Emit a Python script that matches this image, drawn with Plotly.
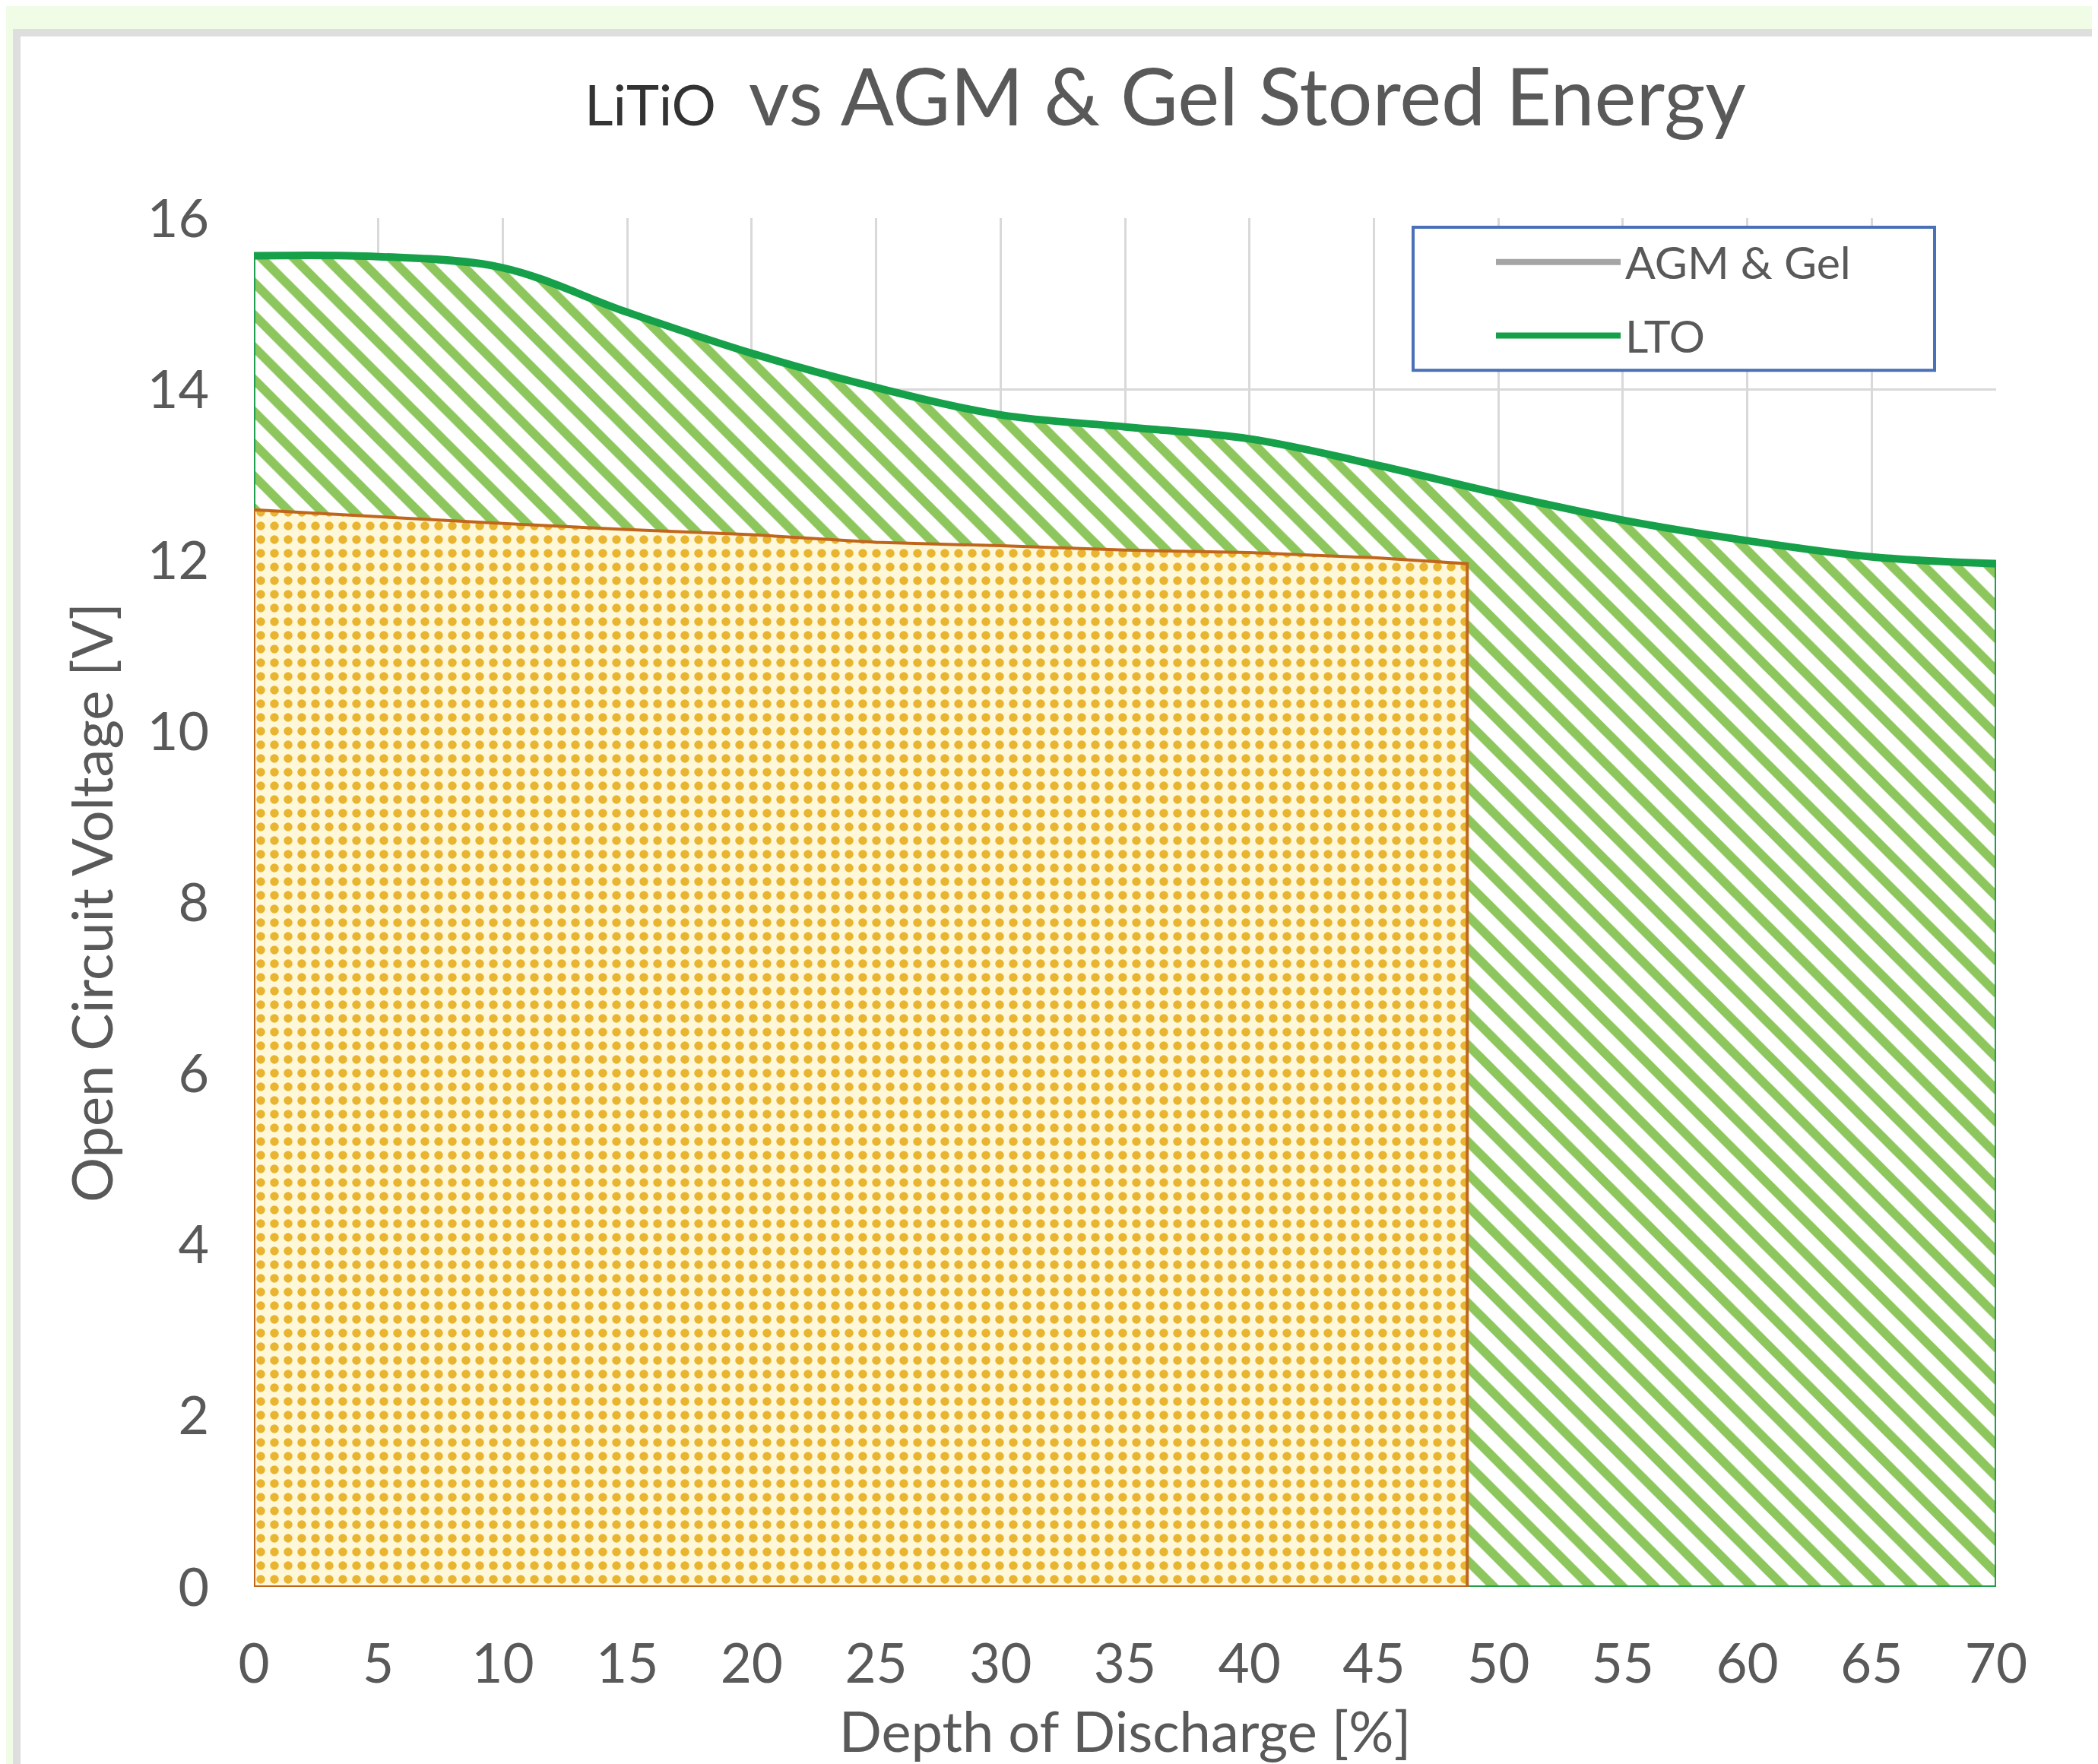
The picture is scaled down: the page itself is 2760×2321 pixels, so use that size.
import plotly.graph_objects as go

# ---- data ----
dod_lto = [0, 5, 10, 15, 20, 25, 30, 35, 40, 45, 50, 55, 60, 65, 70]
ocv_lto = [15.56, 15.55, 15.42, 14.90, 14.42, 14.02, 13.70, 13.56, 13.42, 13.12, 12.78, 12.47, 12.23, 12.04, 11.96]

dod_agm = [0, 5, 10, 15, 20, 25, 30, 35, 40, 45, 48.75]
ocv_agm = [12.59, 12.51, 12.43, 12.36, 12.30, 12.21, 12.17, 12.12, 12.09, 12.03, 11.96]

x_ticks = list(range(0, 71, 5))
y_ticks = list(range(0, 17, 2))

series_names = ["AGM & Gel", "LTO"]
legend_colors = ["#a5a5a5", "#16a049"]

FONT = "Lato"
GREY_TXT = "#595959"

fig = go.Figure()

# LTO area (closed outline down to zero)
fig.add_trace(go.Scatter(
    x=dod_lto + [dod_lto[-1], dod_lto[0], dod_lto[0]],
    y=ocv_lto + [0, 0, ocv_lto[0]],
    mode="lines", fill="toself",
    fillcolor="rgba(0,0,0,0)",
    fillpattern=dict(shape="\\", fgcolor="#8cc65c", bgcolor="#ffffff",
                     size=30, solidity=0.4, fillmode="replace"),
    line=dict(color="#1f9e4b", width=4),
    showlegend=False, hoverinfo="skip", name="LTO area"))

# LTO smoothed top line
fig.add_trace(go.Scatter(
    x=dod_lto, y=ocv_lto, mode="lines", name="LTO",
    line=dict(color="#16a049", width=10, shape="spline", smoothing=1.0),
    showlegend=False))

# AGM & Gel area
fig.add_trace(go.Scatter(
    x=dod_agm + [dod_agm[-1], dod_agm[0], dod_agm[0]],
    y=ocv_agm + [0, 0, ocv_agm[0]],
    mode="lines", fill="toself",
    fillcolor="rgba(0,0,0,0)",
    fillpattern=dict(shape=".", fgcolor="#e9b530", bgcolor="#fff8d8",
                     size=18, solidity=0.32, fillmode="replace"),
    line=dict(color="#c0661c", width=4),
    showlegend=False, name="AGM & Gel"))

# ---- layout geometry (screen pixels of the reference) ----
W, H = 2760, 2321
OFF = 8                       # page body margin shifts the figure
L, R, T, B = 334, 2626, 287, 2095
pw, ph = R - L, B - T
FW, FH = W - OFF, H - OFF     # figure size

def px(xf):
    return (xf - L) / pw

def py(yf):
    return (B - yf) / ph

shapes = []
# chart area (white card with grey border) on light green page
shapes.append(dict(type="rect", xref="paper", yref="paper", layer="below",
                   x0=px(22), x1=px(W + 40), y0=py(H + 40), y1=py(42),
                   fillcolor="#ffffff", line=dict(color="#dedede", width=10)))

# manual legend box
lx0, lx1, ly0, ly1 = 1859, 2545, 299, 488
shapes.append(dict(type="rect", xref="paper", yref="paper", layer="above",
                   x0=px(lx0), x1=px(lx1), y0=py(ly1), y1=py(ly0),
                   fillcolor="#ffffff", line=dict(color="#4a70b8", width=4)))
annotations = []
for i, (nm, col) in enumerate(zip(series_names, legend_colors)):
    yy = 345 + i * 97
    shapes.append(dict(type="line", xref="paper", yref="paper", layer="above",
                       x0=px(1968), x1=px(2132), y0=py(yy), y1=py(yy),
                       line=dict(color=col, width=8)))
    annotations.append(dict(x=px(2136), y=py(yy), xref="paper", yref="paper",
                            text=nm, showarrow=False, xanchor="left", yanchor="middle",
                            font=dict(family=FONT, size=59, color=GREY_TXT)))

fig.update_layout(
    width=FW, height=FH,
    margin=dict(l=L - OFF, r=W - R, t=T - OFF, b=H - B),
    paper_bgcolor="#f1fce6",
    plot_bgcolor="#ffffff",
    font=dict(family=FONT, color=GREY_TXT),
    title=dict(
        text='<span style="font-size:73px;color:#333333">LiTiO </span> vs AGM &amp; Gel Stored Energy',
        x=(1533 - OFF) / FW, xref="container", xanchor="center",
        y=1 - (129 - OFF) / FH, yref="container", yanchor="middle",
        font=dict(family=FONT, size=104, color=GREY_TXT)),
    xaxis=dict(range=[0, 70], tickvals=x_ticks, ticktext=[str(v) for v in x_ticks],
               showgrid=True, gridcolor="#d9d9d9", gridwidth=3,
               zeroline=False, showline=False, ticks="",
               ticklabelstandoff=54,
               tickfont=dict(family=FONT, size=71, color=GREY_TXT),
               title=dict(text="Depth of Discharge [%]", standoff=28,
                          font=dict(family=FONT, size=74, color=GREY_TXT))),
    yaxis=dict(range=[0, 16], tickvals=y_ticks, ticktext=[str(v) for v in y_ticks],
               showgrid=True, gridcolor="#d9d9d9", gridwidth=3,
               zeroline=False, showline=False, ticks="",
               ticklabelstandoff=58,
               tickfont=dict(family=FONT, size=70, color=GREY_TXT),
               title=dict(text="Open Circuit Voltage [V]", standoff=20,
                          font=dict(family=FONT, size=74, color=GREY_TXT))),
    shapes=shapes,
    annotations=annotations,
    showlegend=False,
)

fig.write_html("out.html")
